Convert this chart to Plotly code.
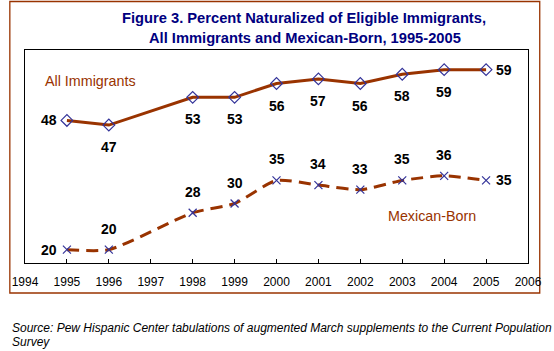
import plotly.graph_objects as go

years = [1995, 1996, 1998, 1999, 2000, 2001, 2002, 2003, 2004, 2005]
all_immigrants = [48, 47, 53, 53, 56, 57, 56, 58, 59, 59]
mexican_born = [20, 20, 28, 30, 35, 34, 33, 35, 36, 35]
tick_years = list(range(1994, 2007))

title_lines = ["Figure 3. Percent Naturalized of Eligible Immigrants,",
               "All Immigrants and Mexican-Born, 1995-2005"]
source_lines = ["Source: Pew Hispanic Center tabulations of augmented March supplements to the Current Population",
                "Survey"]

# label placement (style only)
all_pos = ["left"] + ["below"] * 8 + ["right"]
mex_pos = ["left"] + ["above"] * 8 + ["right"]

BROWN = "#993300"
NAVY = "#333399"
FONT = "Liberation Sans, Arial, sans-serif"

W, H = 554, 351
L, R, T, B = 17, 531, 50, 263
pw, ph = R - L, B - T


def px_x(x):
    return (x - L) / pw


def px_y(y):
    return (B - y) / ph


fig = go.Figure()
fig.add_trace(go.Scatter(
    x=years, y=all_immigrants, mode="lines+markers",
    line=dict(color=BROWN, width=3),
    marker=dict(symbol="diamond-open", size=9, color=NAVY, line=dict(width=1.2, color=NAVY)),
    showlegend=False, hoverinfo="skip"))
fig.add_trace(go.Scatter(
    x=years, y=mexican_born, mode="lines+markers",
    line=dict(color=BROWN, width=3, dash="12px,7px", shape="spline", smoothing=0.6),
    marker=dict(symbol="x-thin-open", size=8, color=NAVY, line=dict(width=1.2, color=NAVY)),
    showlegend=False, hoverinfo="skip"))

annotations = []
lab_font = dict(family=FONT, size=14, color="black")


def add_labels(xs, ys, poss):
    for x, y, p in zip(xs, ys, poss):
        xs_, ys_ = 0, 0
        if p == "left":
            xs_ = -18
        elif p == "right":
            xs_ = 18
        elif p == "below":
            ys_ = -22
        else:
            ys_ = 21
        annotations.append(dict(x=x, y=y, xref="x", yref="y", text=f"<b>{y}</b>",
                                showarrow=False, xshift=xs_, yshift=ys_,
                                xanchor="center", yanchor="middle", font=lab_font))


add_labels(years, all_immigrants, all_pos)
add_labels(years, mexican_born, mex_pos)

title_font = dict(family=FONT, size=14.7, color="#000080")
for txt, cx, cy in zip(title_lines, [302, 303], [18.5, 37.8]):
    annotations.append(dict(x=px_x(cx), y=px_y(cy), xref="paper", yref="paper", showarrow=False,
                            text=f"<b>{txt}</b>", xanchor="center", yanchor="middle", font=title_font))

series_font = dict(family=FONT, size=14.3, color=BROWN)
annotations.append(dict(x=px_x(35), y=px_y(81), xref="paper", yref="paper", showarrow=False,
                        text="All Immigrants", xanchor="left", yanchor="middle", font=series_font))
annotations.append(dict(x=px_x(385.5), y=px_y(216), xref="paper", yref="paper", showarrow=False,
                        text="Mexican-Born", xanchor="left", yanchor="middle", font=series_font))

for txt, cy in zip(source_lines, [328, 341.7]):
    annotations.append(dict(x=px_x(2), y=px_y(cy), xref="paper", yref="paper", showarrow=False,
                            text=f"<i>{txt}</i>", xanchor="left", yanchor="middle", align="left",
                            font=dict(family=FONT, size=12, color="black")))

fig.update_layout(
    width=W, height=H,
    margin=dict(l=L, r=W - R, t=T, b=H - B, pad=0),
    paper_bgcolor="white", plot_bgcolor="white",
    annotations=annotations,
    shapes=[dict(type="rect", xref="paper", yref="paper",
                 x0=px_x(1.5), x1=px_x(543), y0=px_y(293), y1=px_y(1.5),
                 line=dict(color=BROWN, width=1.3), layer="below")],
    xaxis=dict(range=[1994, 2006], tickvals=tick_years, ticktext=[str(t) for t in tick_years],
               ticks="inside", ticklen=4, tickcolor="black", tickwidth=1,
               showgrid=False, zeroline=False, showline=True, linecolor="black", linewidth=1,
               mirror=True, ticklabelstandoff=8,
               tickfont=dict(family=FONT, size=12, color="black")),
    yaxis=dict(range=[17.11, 63.26], showticklabels=False, ticks="", showgrid=False,
               zeroline=False, showline=True, linecolor="black", linewidth=1, mirror=True),
)

fig.write_html("out.html")
